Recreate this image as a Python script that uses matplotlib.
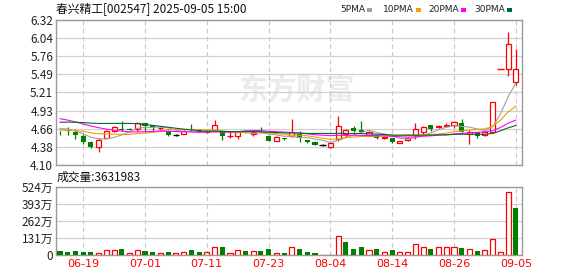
import matplotlib
matplotlib.use('Agg')
import matplotlib.pyplot as plt
from matplotlib.patches import Rectangle
import numpy as np
import pandas as pd

plt.rcParams['font.family'] = ['Noto Sans CJK SC', 'DejaVu Sans']

# ── 数据 ──
dates = ['06-16', '06-17', '06-18', '06-19', '06-20', '06-23', '06-24', '06-25', '06-26', '06-27',
         '06-30', '07-01', '07-02', '07-03', '07-04', '07-07', '07-08', '07-09', '07-10', '07-11',
         '07-14', '07-15', '07-16', '07-17', '07-18', '07-21', '07-22', '07-23', '07-24', '07-25',
         '07-28', '07-29', '07-30', '07-31', '08-01', '08-04', '08-05', '08-06', '08-07', '08-08',
         '08-11', '08-12', '08-13', '08-14', '08-15', '08-18', '08-19', '08-20', '08-21', '08-22',
         '08-25', '08-26', '08-27', '08-28', '08-29', '09-01', '09-02', '09-03', '09-04', '09-05']
opens = [4.62, 4.63, 4.60, 4.55, 4.45, 4.37, 4.52, 4.62, 4.65, 4.645,
         4.65, 4.74, 4.71, 4.66, 4.62, 4.56, 4.58, 4.65, 4.64, 4.60,
         4.64, 4.60, 4.54, 4.54, 4.62, 4.57, 4.62, 4.55, 4.47, 4.51,
         4.54, 4.58, 4.48, 4.45, 4.41, 4.37, 4.50, 4.57, 4.67, 4.63,
         4.56, 4.56, 4.51, 4.51, 4.43, 4.48, 4.56, 4.61, 4.71, 4.68,
         4.70, 4.715, 4.74, 4.57, 4.60, 4.56, 4.60, 5.57, 5.575, 5.37]
highs = [4.62, 4.675, 4.65, 4.58, 4.46, 4.51, 4.63, 4.70, 4.78, 4.66,
         4.76, 4.75, 4.72, 4.68, 4.64, 4.57, 4.64, 4.73, 4.65, 4.63,
         4.79, 4.62, 4.60, 4.61, 4.63, 4.63, 4.68, 4.56, 4.54, 4.52,
         4.80, 4.62, 4.49, 4.46, 4.42, 4.44, 4.85, 4.65, 4.70, 4.78,
         4.62, 4.58, 4.54, 4.52, 4.46, 4.53, 4.74, 4.70, 4.72, 4.72,
         4.745, 4.78, 4.80, 4.63, 4.61, 4.61, 5.06, 5.57, 6.13, 5.87]
lows = [4.56, 4.565, 4.50, 4.42, 4.36, 4.30, 4.51, 4.60, 4.62, 4.63,
        4.62, 4.62, 4.62, 4.64, 4.55, 4.55, 4.57, 4.62, 4.60, 4.59,
        4.62, 4.49, 4.51, 4.50, 4.59, 4.54, 4.59, 4.46, 4.46, 4.49,
        4.53, 4.45, 4.43, 4.40, 4.39, 4.36, 4.47, 4.53, 4.61, 4.59,
        4.55, 4.50, 4.50, 4.43, 4.43, 4.47, 4.50, 4.57, 4.62, 4.66,
        4.68, 4.67, 4.60, 4.42, 4.51, 4.55, 4.59, 5.57, 5.46, 5.33]
closes = [4.615, 4.62, 4.56, 4.45, 4.38, 4.49, 4.62, 4.675, 4.63, 4.64,
          4.74, 4.70, 4.665, 4.67, 4.56, 4.56, 4.62, 4.63, 4.61, 4.62,
          4.71, 4.54, 4.55, 4.60, 4.60, 4.61, 4.60, 4.46, 4.53, 4.50,
          4.60, 4.52, 4.45, 4.41, 4.41, 4.43, 4.70, 4.64, 4.62, 4.60,
          4.60, 4.52, 4.53, 4.45, 4.46, 4.52, 4.65, 4.675, 4.65, 4.70,
          4.72, 4.765, 4.61, 4.61, 4.55, 4.60, 5.06, 5.57, 5.95, 5.575]
# 成交量（万）
volumes = [31, 20, 28, 20, 20, 18, 36, 36, 44, 18,
           41, 28, 20, 13, 20, 13, 20, 36, 20, 20,
           61, 59, 18, 36, 28, 28, 28, 44, 18, 13,
           64, 44, 20, 13, 3, 3, 148, 97, 44, 59,
           36, 44, 26, 36, 20, 26, 87, 64, 44, 64,
           59, 59, 51, 49, 28, 36, 125, 26, 486, 363]
vol_red = [0, 0, 0, 0, 0, 1, 1, 1, 0, 1,
           1, 0, 0, 1, 0, 1, 1, 0, 0, 1,
           1, 0, 1, 1, 0, 1, 0, 0, 1, 0,
           1, 0, 0, 0, 1, 1, 1, 0, 0, 0,
           1, 0, 1, 0, 1, 1, 1, 1, 0, 1,
           1, 1, 0, 1, 0, 1, 1, 1, 1, 0]
# 图左侧之前的收盘价（用于均线起点）
prior_closes = [4.58, 4.60, 4.63, 4.61, 4.64, 4.62, 4.66, 4.63, 4.65,
                4.85, 5.05, 5.12, 5.08, 4.98, 5.02, 5.06, 4.97, 4.94, 4.90,
                4.72, 4.64, 4.60, 4.58, 4.60, 4.62, 4.66, 4.70, 4.68, 4.64]

price_labels = ['4.10', '4.38', '4.66', '4.93', '5.21', '5.49', '5.76', '6.04', '6.32']
vol_ticks = [0, 131, 262, 393, 524]
vol_labels = ['0', '131万', '262万', '393万', '524万']
tick_dates = ['06-19', '07-01', '07-11', '07-23', '08-04', '08-14', '08-26', '09-05']
ma_periods = [5, 10, 20, 30]
ma_colors = ['#a0a0a0', '#f0a000', '#ff00ff', '#006a2e']
last_volume = 3631983

RED = '#ff0000'
GREEN = '#008000'

n = len(closes)
x = np.arange(n)
all_close = pd.Series(prior_closes + closes)

W, H = 578, 276
fig = plt.figure(figsize=(W / 100, H / 100), dpi=100)
ax = fig.add_axes([56 / W, 1 - 165 / H, 466 / W, 145 / H])
axv = fig.add_axes([56 / W, 1 - 255 / H, 466 / W, 68.3 / H])

# 水印
ax.text(296 / W, 1 - 90 / H, '东方财富', transform=fig.transFigure, fontsize=21,
        fontweight='bold', color='#ebebeb', ha='center', va='center', zorder=0.1)

# ── K线 ──
bw = 0.66
for i in x:
    o, h, l, c = opens[i], highs[i], lows[i], closes[i]
    if c > o:
        ax.vlines(i, c, h, color=RED, lw=0.9, zorder=3)
        ax.vlines(i, l, o, color=RED, lw=0.9, zorder=3)
        ax.bar(i, c - o, bottom=o, width=bw, facecolor='white', edgecolor=RED, lw=0.9, zorder=3)
    elif c < o:
        ax.vlines(i, l, h, color=GREEN, lw=0.9, zorder=3)
        ax.bar(i, o - c, bottom=c, width=bw, color=GREEN, lw=0, zorder=3)
    else:
        prev = closes[i - 1] if i > 0 else c
        col = RED if c > prev else (GREEN if c < prev else 'black')
        ax.vlines(i, l, h, color=col, lw=0.9, zorder=3)
        ax.hlines(c, i - bw / 2 - 0.1, i + bw / 2 + 0.1, color=col, lw=1.0, zorder=3)

# ── 均线 ──
for p, col in zip(ma_periods, ma_colors):
    ma = all_close.rolling(p).mean().values[-n:]
    ax.plot(x, ma, color=col, lw=0.8, zorder=4)

# ── 成交量 ──
for i in x:
    if vol_red[i]:
        axv.bar(i, volumes[i], width=bw, facecolor='white', edgecolor=RED, lw=0.9, zorder=3)
    else:
        axv.bar(i, volumes[i], width=bw, color=GREEN, lw=0, zorder=3)

# ── 坐标轴样式 ──
tick_pos = [dates.index(d) for d in tick_dates]
for a in (ax, axv):
    a.set_xlim(-0.52, 59.8)
    a.set_xticks(tick_pos)
    a.tick_params(length=0, pad=2, labelsize=8.5, colors='#222222')
    a.grid(True, axis='y', color='#d0d0d0', lw=0.9, zorder=0)
    a.grid(True, axis='x', color='#c8c8c8', lw=0.8, ls=(0, (4, 3)), zorder=0)
    for s in a.spines.values():
        s.set_color('#9a9a9a')
        s.set_linewidth(1.0)
    a.set_facecolor('none')

ax.set_ylim(4.10, 6.32)
ax.set_yticks(np.linspace(4.10, 6.32, 9))
ax.set_yticklabels(price_labels)
ax.set_xticklabels([])

axv.set_ylim(0, 524)
axv.set_yticks(vol_ticks)
axv.set_yticklabels(vol_labels)
axv.set_xticklabels(tick_dates, color=RED, fontsize=8, family=['DejaVu Sans'])
axv.tick_params(axis='x', pad=3)

# ── 标题与图例 ──
fig.text(56 / W, 1 - 10 / H, '春兴精工[002547] 2025-09-05 15:00', fontsize=8.5,
         va='center', ha='left', color='#111111')
leg_x = [340, 383, 428, 474]
for (p, col, lx) in zip(ma_periods, ma_colors, leg_x):
    t = fig.text(lx / W, 1 - 10 / H, f'{p}PMA', fontsize=6.5, va='center', ha='left',
                 color='#222222', family=['DejaVu Sans'])
    sq_x = lx + (27 if p == 5 else 33)
    fig.add_artist(Rectangle((sq_x / W, 1 - 12 / H), 5 / W, 4 / H,
                             transform=fig.transFigure, color=col, lw=0))

fig.text(57 / W, 1 - 177 / H, f'成交量:{last_volume}', fontsize=8.5,
         va='center', ha='left', color='#111111')

fig.savefig('out.png', dpi=100)
plt.close(fig)
